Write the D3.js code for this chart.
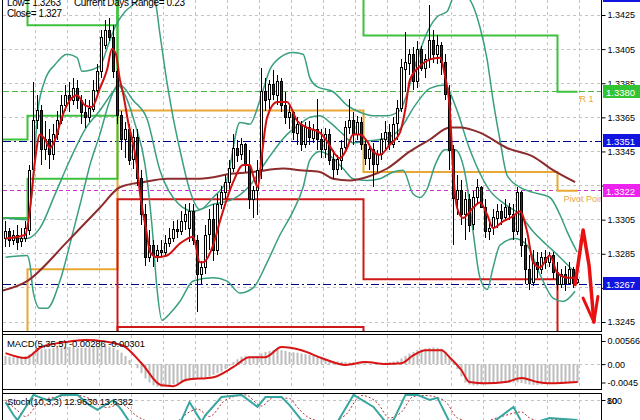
<!DOCTYPE html>
<html><head><meta charset="utf-8">
<script src="https://cdn.jsdelivr.net/npm/d3@7/dist/d3.min.js"></script>
<style>
html,body{margin:0;padding:0;background:#fff;}
svg{display:block;}
text{font-family:"Liberation Sans",Arial,sans-serif;}
</style></head><body>
<svg id="chart" width="640" height="420"></svg>
<script>
// ---------------- DATA ----------------
const openP = [
1.3294,1.3298,1.3293,1.3296,1.3292,1.3294,1.3299,1.3334,1.3363,1.3369,
1.3346,1.3352,1.3343,1.3355,1.3363,1.3372,1.3378,1.3375,1.3382,1.3375,
1.3368,1.3365,1.3370,1.3381,1.3392,1.3407,1.3416,1.3412,1.3392,1.3366,
1.3352,1.3358,1.3340,1.3353,1.3329,1.3308,1.3283,1.3290,1.3284,1.3287,
1.3286,1.3291,1.3294,1.3299,1.3298,1.3304,1.3300,1.3310,1.3293,1.3273,
1.3277,1.3296,1.3305,1.3287,1.3314,1.3321,1.3327,1.3335,1.3347,1.3343,
1.3349,1.3337,1.3317,1.3322,1.3334,1.3380,1.3375,1.3384,1.3378,1.3386,
1.3372,1.3365,1.3368,1.3356,1.3361,1.3349,1.3359,1.3353,1.3358,1.3352,
1.3346,1.3355,1.3340,1.3334,1.3340,1.3347,1.3359,1.3363,1.3355,1.3362,
1.3349,1.3341,1.3346,1.3337,1.3343,1.3352,1.3356,1.3349,1.3361,1.3370,
1.3393,1.3397,1.3402,1.3386,1.3405,1.3394,1.3399,1.3410,1.3402,1.3407,
1.3397,1.3378,1.3346,1.3317,1.3322,1.3308,1.3317,1.3302,1.3318,1.3324,
1.3312,1.3298,1.3300,1.3306,1.3310,1.3306,1.3312,1.3308,1.3298,1.3321,
1.3290,1.3276,1.3268,1.3280,1.3276,1.3283,1.3280,1.3284,1.3274,1.3267,
1.3273,1.3268,1.3276,1.3268];
const highP = [
1.3304,1.3300,1.3299,1.3302,1.3300,1.3304,1.3337,1.3386,1.3378,1.3372,
1.3363,1.3358,1.3361,1.3369,1.3378,1.3384,1.3386,1.3388,1.3387,1.3378,
1.3376,1.3375,1.3387,1.3396,1.3416,1.3422,1.3423,1.3419,1.3394,1.3369,
1.3362,1.3361,1.3358,1.3358,1.3334,1.3314,1.3299,1.3293,1.3290,1.3293,
1.3296,1.3300,1.3304,1.3305,1.3310,1.3314,1.3315,1.3314,1.3296,1.3281,
1.3302,1.3311,1.3314,1.3320,1.3325,1.3331,1.3340,1.3355,1.3352,1.3353,
1.3350,1.3346,1.3325,1.3340,1.3394,1.3388,1.3387,1.3393,1.3390,1.3388,
1.3380,1.3372,1.3369,1.3365,1.3363,1.3362,1.3363,1.3361,1.3376,1.3358,
1.3359,1.3358,1.3346,1.3343,1.3352,1.3363,1.3376,1.3368,1.3366,1.3365,
1.3352,1.3349,1.3350,1.3346,1.3356,1.3363,1.3361,1.3365,1.3375,1.3399,
1.3415,1.3405,1.3406,1.3410,1.3407,1.3402,1.3431,1.3416,1.3413,1.3409,
1.3402,1.3384,1.3349,1.3331,1.3328,1.3321,1.3320,1.3322,1.3329,1.3325,
1.3317,1.3304,1.3311,1.3314,1.3314,1.3317,1.3315,1.3314,1.3324,1.3322,
1.3294,1.3284,1.3287,1.3286,1.3286,1.3287,1.3286,1.3286,1.3280,1.3276,
1.3278,1.3280,1.3277,1.3273];
const lowP = [
1.3289,1.3289,1.3290,1.3287,1.3289,1.3292,1.3296,1.3333,1.3358,1.3337,
1.3340,1.3335,1.3340,1.3352,1.3361,1.3369,1.3368,1.3372,1.3370,1.3361,
1.3359,1.3362,1.3368,1.3378,1.3388,1.3405,1.3410,1.3388,1.3361,1.3346,
1.3341,1.3337,1.3335,1.3325,1.3302,1.3278,1.3280,1.3277,1.3280,1.3283,
1.3284,1.3289,1.3292,1.3294,1.3296,1.3299,1.3292,1.3290,1.3251,1.3267,
1.3273,1.3287,1.3281,1.3284,1.3311,1.3317,1.3322,1.3333,1.3339,1.3340,
1.3333,1.3311,1.3306,1.3308,1.3329,1.3369,1.3370,1.3375,1.3372,1.3368,
1.3361,1.3358,1.3352,1.3349,1.3345,1.3347,1.3349,1.3350,1.3346,1.3341,
1.3341,1.3337,1.3329,1.3331,1.3334,1.3345,1.3355,1.3349,1.3352,1.3346,
1.3337,1.3334,1.3324,1.3333,1.3340,1.3346,1.3346,1.3347,1.3352,1.3368,
1.3380,1.3390,1.3381,1.3382,1.3392,1.3388,1.3394,1.3397,1.3396,1.3390,
1.3375,1.3334,1.3290,1.3308,1.3302,1.3293,1.3298,1.3299,1.3314,1.3312,
1.3294,1.3293,1.3296,1.3300,1.3302,1.3304,1.3305,1.3293,1.3296,1.3283,
1.3267,1.3264,1.3266,1.3271,1.3273,1.3276,1.3277,1.3270,1.3264,1.3265,
1.3263,1.3267,1.3265,1.3267];
const closeP = [
1.3298,1.3293,1.3296,1.3292,1.3294,1.3300,1.3334,1.3363,1.3369,1.3346,
1.3352,1.3343,1.3355,1.3363,1.3372,1.3378,1.3375,1.3382,1.3375,1.3368,
1.3365,1.3370,1.3381,1.3392,1.3412,1.3416,1.3412,1.3392,1.3366,1.3352,
1.3358,1.3340,1.3353,1.3329,1.3308,1.3283,1.3290,1.3284,1.3287,1.3286,
1.3291,1.3294,1.3299,1.3298,1.3304,1.3308,1.3310,1.3293,1.3273,1.3277,
1.3296,1.3305,1.3287,1.3314,1.3321,1.3327,1.3335,1.3347,1.3343,1.3349,
1.3337,1.3317,1.3322,1.3334,1.3380,1.3375,1.3384,1.3378,1.3386,1.3372,
1.3365,1.3368,1.3356,1.3361,1.3349,1.3359,1.3353,1.3358,1.3352,1.3346,
1.3355,1.3340,1.3334,1.3340,1.3347,1.3359,1.3363,1.3355,1.3362,1.3349,
1.3341,1.3346,1.3337,1.3343,1.3352,1.3356,1.3349,1.3361,1.3370,1.3394,
1.3397,1.3402,1.3386,1.3405,1.3394,1.3399,1.3410,1.3402,1.3407,1.3397,
1.3378,1.3346,1.3317,1.3322,1.3308,1.3317,1.3302,1.3318,1.3324,1.3312,
1.3298,1.3300,1.3306,1.3310,1.3306,1.3312,1.3308,1.3298,1.3321,1.3290,
1.3276,1.3268,1.3280,1.3276,1.3283,1.3280,1.3284,1.3274,1.3267,1.3273,
1.3268,1.3276,1.3268,1.3270];

// fast MA (red), sampled points [bar, price]
const fastMaIdx = [0,4.9,6.1,7.4,8.6,9.9,11.1,12.4,14.1,16.1,17.9,19.9,21.6,23.6,25.4,26.6,27.6,28.6,29.4,30.6,32.9,33.6,35.4,36.1,37.9,40.4,43.6,46.9,48.6,49.4,51.9,53.6,56.9,59.4,61.1,61.9,63.1,64.1,65.4,67.9,70.4,72.9,75.4,78.6,80.4,81.9,83.6,85.4,86.9,88.6,90.4,91.9,93.6,96.1,98.6,99.9,101.1,103.6,106.1,108.6,109.9,111.1,111.9,112.9,114.4,116.9,118.6,120.4,121.9,124.4,126.9,128.6,130.4,131.9,133.6,136.1,137.9,140.4,142.4];
const fastMaVal = [1.3294,1.3296,1.3311,1.3340,1.3355,1.3352,1.3347,1.3352,1.3365,1.3375,1.3378,1.3372,1.3371,1.3382,1.3393,1.3405,1.3402,1.3387,1.3379,1.3363,1.3336,1.3321,1.3296,1.3286,1.3283,1.3284,1.3291,1.3295,1.3280,1.3280,1.3290,1.3304,1.3327,1.3337,1.3337,1.3331,1.3324,1.3343,1.3365,1.3374,1.3374,1.3363,1.3359,1.3356,1.3351,1.3345,1.3341,1.3347,1.3355,1.3355,1.3351,1.3345,1.3343,1.3349,1.3356,1.3369,1.3387,1.3395,1.3399,1.3400,1.3389,1.3369,1.3334,1.3312,1.3306,1.3312,1.3315,1.3308,1.3300,1.3304,1.3307,1.3310,1.3298,1.3280,1.3277,1.3284,1.3274,1.3271,1.3271];

// slow MA (brown)
const slowMaIdx = [-1.4,5.4,15.4,23.6,28.6,34.4,40.4,48.6,56.9,61.9,69.4,73.6,78.6,81.9,86.1,90.4,95.4,101.1,106.1,111.1,113.6,118.6,125.4,131.9,136.9,142.4];
const slowMaVal = [1.3263,1.3269,1.3292,1.3312,1.3324,1.3327,1.3329,1.3329,1.3332,1.3333,1.3335,1.3334,1.3333,1.3329,1.3328,1.3330,1.3335,1.3345,1.3352,1.3359,1.3359,1.3356,1.3347,1.3342,1.3334,1.3327];

// Bollinger bands (teal)
const bbUpIdx = [0,5.4,6.6,8.1,9.9,12.4,15.4,17.9,19.1,23.6,25.6,27.4,29.9,31.9,35.6,37.4,38.6,40.4,41.9,43.6,46.1,48.6,51.9,55.4,58.6,61.1,63.6,66.1,68.6,71.9,74.4,76.1,77.9,81.9,85.4,88.6,91.9,95.4,98.6,100.4,102.9,106.1,107.9,110.4,112.4,114.9,116.1,118.6,120.4,121.9,123.6,125.4,128.6,131.9,136.1,138.6,140.4,142.9];
const bbUpVal = [1.3306,1.3305,1.3320,1.3369,1.3387,1.3396,1.3402,1.3400,1.3392,1.3395,1.3407,1.3418,1.3427,1.3431,1.3438,1.3433,1.3414,1.3385,1.3365,1.3346,1.3322,1.3311,1.3318,1.3329,1.3362,1.3361,1.3375,1.3393,1.3400,1.3403,1.3402,1.3388,1.3383,1.3380,1.3372,1.3368,1.3366,1.3366,1.3369,1.3379,1.3399,1.3418,1.3424,1.3427,1.3437,1.3437,1.3434,1.3418,1.3399,1.3375,1.3352,1.3331,1.3324,1.3321,1.3318,1.3308,1.3298,1.3286];
const bbMidIdx = [0,5.4,8.6,12.4,16.1,19.9,23.6,26.9,28.6,31.9,35.4,38.6,41.9,46.9,51.9,56.9,61.1,65.4,70.4,73.6,76.1,78.6,81.1,84.4,86.9,90.4,95.4,98.6,102.4,106.1,109.9,112.4,116.1,121.1,124.9,128.6,131.9,135.4,138.6,142.4];
const bbMidVal = [1.3294,1.3294,1.3300,1.3320,1.3340,1.3358,1.3369,1.3380,1.3384,1.3375,1.3364,1.3334,1.3318,1.3310,1.3314,1.3317,1.3325,1.3340,1.3355,1.3361,1.3365,1.3366,1.3362,1.3355,1.3350,1.3351,1.3353,1.3358,1.3372,1.3382,1.3384,1.3372,1.3346,1.3322,1.3314,1.3308,1.3298,1.3290,1.3283,1.3274];
const bbLoIdx = [0,5.4,6.1,6.9,8.6,10.4,13.6,16.9,19.4,21.1,23.6,26.1,28.1,29.9,32.4,34.9,36.6,37.9,39.1,41.1,43.6,46.9,51.9,55.4,58.6,61.9,65.4,68.6,71.9,74.4,76.1,78.6,81.9,84.4,86.9,90.4,93.6,96.9,99.4,101.9,103.6,105.4,107.4,109.9,112.4,114.4,115.4,116.9,118.6,120.4,121.9,123.6,127.4,130.4,133.6,136.9,139.4,142.4];
const bbLoVal = [1.3283,1.3284,1.3279,1.3263,1.3253,1.3253,1.3269,1.3298,1.3321,1.3337,1.3355,1.3375,1.3384,1.3378,1.3361,1.3337,1.3302,1.3264,1.3246,1.3250,1.3257,1.3269,1.3271,1.3269,1.3262,1.3265,1.3280,1.3296,1.3310,1.3324,1.3340,1.3345,1.3341,1.3335,1.3329,1.3328,1.3329,1.3333,1.3334,1.3320,1.3318,1.3323,1.3337,1.3346,1.3346,1.3337,1.3325,1.3298,1.3271,1.3264,1.3277,1.3290,1.3294,1.3290,1.3273,1.3259,1.3257,1.3263];

// daily pivot levels (day boundaries in bars)
const dayStart = [-3, 5.5, 28, 89.5, 138];
const dayEnd   = [5.5, 28, 89.5, 138, 143];
const pivotLvl = [1.3210, 1.3276, 1.3369, 1.3333, 1.3322];
const r1Lvl = [1.3306, 1.3329, 1.3460, 1.3413, 1.3380];
const r2Lvl = [1.3352, 1.3366, 1.3480, 1.3470, 1.3460];
const r3Lvl = [1.3450, 1.3419, 1.3500, 1.3500, 1.3500];
const s1Lvl = [1.3200, 1.3200, 1.3317, 1.3270, 1.3200];
const s2Lvl = [1.3190, 1.3190, 1.3242, 1.3190, 1.3190];

// horizontal level lines + price tags
const hLevels = [1.3380, 1.3351, 1.3322, 1.3267];
const hLabels = ["1.3380", "1.3351", "1.3322", "1.3267"];
const topTagPrice = 1.3436, topTagLabel = "1.3436";

// price axis ticks (labels of 1.3325 and 1.3265 sit under the price tags)
const priceTicks = [1.3425,1.3405,1.3385,1.3365,1.3345,1.3325,1.3305,1.3285,1.3265,1.3245];
const hiddenTickLabels = [1.3325, 1.3265];

// hand-drawn arrow
const arrowIdx = [142.4, 144.4, 145.9, 147.1];
const arrowVal = [1.3267, 1.3299, 1.3278, 1.3245];
const arrowWingIdx = [144.4, 147.1, 148.1];
const arrowWingVal = [1.3259, 1.3245, 1.3260];

// MACD histogram (per bar) and signal
const macdHist = [
0.0020,0.0018,0.0017,0.0016,0.0018,0.0020,0.0024,
0.0030,0.0034,0.0036,0.0037,0.0038,0.0039,0.0040,0.0041,0.0042,0.0042,0.0042,0.0041,0.0040,0.0040,0.0041,0.0042,0.0043,0.0044,0.0044,0.0043,0.0040,0.0035,0.0028,0.0020,
0.0010,0.0000,-0.0010,
-0.0022,-0.0035,-0.0045,-0.0052,-0.0055,-0.0056,-0.0055,-0.0053,-0.0050,-0.0048,-0.0045,-0.0043,-0.0040,-0.0038,-0.0036,-0.0034,-0.0032,-0.0030,-0.0026,-0.0022,-0.0018,-0.0012,
-0.0005,0.0005,0.0012,0.0018,0.0020,0.0018,0.0016,0.0020,0.0026,0.0030,0.0032,0.0034,0.0035,0.0034,0.0032,0.0030,0.0029,0.0028,0.0026,0.0024,0.0022,0.0020,0.0017,
0.0015,0.0012,0.0010,0.0008,0.0007,0.0006,0.0005,
0.0004,0.0004,0.0003,0.0003,0.0002,0.0001,0.0001,0.0002,0.0003,0.0004,0.0005,0.0006,0.0008,
0.0014,0.0020,0.0026,0.0030,0.0034,0.0036,0.0038,0.0040,0.0041,0.0040,0.0038,0.0030,
0.0018,0.0005,-0.0012,-0.0030,
-0.0045,-0.0050,-0.0052,-0.0052,-0.0050,-0.0050,-0.0049,-0.0048,-0.0047,-0.0047,-0.0046,-0.0046,-0.0045,-0.0045,-0.0046,-0.0048,-0.0050,-0.0051,-0.0051,-0.0050,-0.0049,-0.0049,-0.0048,-0.0048,-0.0047,-0.0047,-0.0047,-0.0046,-0.0046];
const macdSigIdx = [0,5,9,15,20,29,34,39,42,45,52,57,61,65,69,74,79,85,90,95,99,102,105,109,111,114,116,120,125,129,133,136,143];
const macdSigVal = [0.0027,0.0015,0.0042,0.0054,0.0059,0.0047,0.0002,-0.0052,-0.0054,-0.0039,-0.0032,-0.0007,0.0017,0.0017,0.0042,0.0034,0.0015,-0.0002,0.0005,0.0000,0.0002,0.0022,0.0034,0.0034,0.0017,-0.0015,-0.0044,-0.0047,-0.0044,-0.0034,-0.0044,-0.0047,-0.0044];
const macdTicks = [0.00566, 0, -0.0045];
const macdTickLabels = ["0.00566", "0.00", "-0.0045"];

// Stochastic
const stoMainIdx = [0,2,3,7,11,14,18,21,23,27,29,31,34,41,44,46,49,50,54,59,63,65,69,71,74,79,83,87,92,95,97,100,103,106,108,111,116,122,127,129,132,136,143];
const stoMainVal = [73,30,13,97,77,97,97,63,47,80,47,7,2,2,13,73,7,30,90,97,57,90,90,63,13,2,7,97,57,7,13,97,97,80,87,7,2,7,57,7,3,20,13];
const stoSigIdx = [0,3,5,9,13,17,21,25,29,33,37,42,46,48,51,55,60,64,67,71,73,76,81,85,89,93,96,99,102,105,108,110,113,118,124,129,131,134,138,143];
const stoSigVal = [80,45,25,80,90,97,85,55,65,25,5,5,40,50,25,80,97,60,88,85,55,20,5,30,95,70,20,40,92,95,88,75,20,4,25,40,20,10,15,14];

// ---------------- DRAW ----------------
const svg = d3.select('#chart');
const defs = svg.append('defs');
function clip(id, x, y, w, h) {
  defs.append('clipPath').attr('id', id).append('rect')
    .attr('x', x).attr('y', y).attr('width', w).attr('height', h);
}
clip('cMain', 3, 0, 598, 331);
clip('cMacd', 3, 335, 598, 54);
clip('cSto', 3, 394, 598, 26);

const x = d3.scaleLinear().domain([0, 143]).range([5.5, 577.5]);
const y = d3.scaleLinear().domain([1.3245, 1.3425]).range([322, 15]);
const yM = d3.scaleLinear().domain([-0.0045, 0.00566]).range([382.5, 341]);
const yS = d3.scaleLinear().domain([0, 100]).range([424, 394]);
const crisp = v => Math.round(v - 0.5) + 0.5;

const gridColor = '#c4c4c4';
const vGrid = d3.range(7.375, 144, 8);

// grids
function vgrid(y0, y1) {
  svg.append('g').selectAll('line').data(vGrid).join('line')
    .attr('x1', d => crisp(x(d))).attr('x2', d => crisp(x(d)))
    .attr('y1', y0).attr('y2', y1)
    .attr('stroke', gridColor).attr('stroke-dasharray', '3,3');
}
vgrid(0, 331); vgrid(335, 389); vgrid(394, 420);
svg.append('g').selectAll('line').data(priceTicks).join('line')
  .attr('x1', 3).attr('x2', 601).attr('y1', d => crisp(y(d))).attr('y2', d => crisp(y(d)))
  .attr('stroke', gridColor).attr('stroke-dasharray', '3,3');
svg.append('line').attr('x1', 3).attr('x2', 601).attr('y1', crisp(yM(0))).attr('y2', crisp(yM(0)))
  .attr('stroke', gridColor).attr('stroke-dasharray', '3,3');
svg.append('line').attr('x1', 3).attr('x2', 601).attr('y1', crisp(yS(80))).attr('y2', crisp(yS(80)))
  .attr('stroke', gridColor).attr('stroke-dasharray', '3,3');

// main panel content
const gMain = svg.append('g').attr('clip-path', 'url(#cMain)');

// horizontal level lines
const hStyles = [
  {c: '#4cb84c', d: '6,3'}, {c: '#00008b', d: '8,3,2,3'},
  {c: '#cc33cc', d: '4,3'}, {c: '#00008b', d: '8,3,2,3'}];
hLevels.forEach((p, k) => {
  gMain.append('line').attr('x1', 3).attr('x2', 601)
    .attr('y1', crisp(y(p))).attr('y2', crisp(y(p)))
    .attr('stroke', hStyles[k].c).attr('stroke-dasharray', hStyles[k].d);
});

// pivot step lines
const stepLine = d3.line().x(d => x(d[0])).y(d => y(d[1]));
function steps(levels) {
  const pts = [];
  levels.forEach((l, k) => { pts.push([dayStart[k], l]); pts.push([dayEnd[k], l]); });
  return pts;
}
[[pivotLvl, '#e8a833'], [s1Lvl, '#d01818'], [s2Lvl, '#d01818'],
 [r3Lvl, '#3cc23c'], [r2Lvl, '#3cc23c'], [r1Lvl, '#3cc23c']].forEach(([lv, col]) => {
  gMain.append('path').attr('d', stepLine(steps(lv))).attr('fill', 'none')
    .attr('stroke', col).attr('stroke-width', 2);
});
gMain.append('text').attr('x', x(143) + 2).attr('y', y(r1Lvl[4]) + 10)
  .attr('font-size', 9).attr('fill', '#e8a840').text('R 1');
gMain.append('text').attr('x', x(143) - 14).attr('y', y(pivotLvl[4]) + 11)
  .attr('font-size', 9).attr('fill', '#e8a840').text('Pivot Point');

// Bollinger bands
const curveLine = (sc) => d3.line().x(d => x(d[0])).y(d => sc(d[1])).curve(d3.curveMonotoneX);
[[bbUpIdx, bbUpVal], [bbMidIdx, bbMidVal], [bbLoIdx, bbLoVal]].forEach(([ix, vv]) => {
  gMain.append('path').attr('d', curveLine(y)(d3.zip(ix, vv)))
    .attr('fill', 'none').attr('stroke', '#3a9e80').attr('stroke-width', 1.5);
});
// slow MA
gMain.append('path').attr('d', curveLine(y)(d3.zip(slowMaIdx, slowMaVal)))
  .attr('fill', 'none').attr('stroke', '#8c2c2c').attr('stroke-width', 2);

// candles
const bars = d3.range(closeP.length);
gMain.append('g').selectAll('line').data(bars).join('line')
  .attr('x1', i => x(i)).attr('x2', i => x(i))
  .attr('y1', i => Math.round(y(highP[i]))).attr('y2', i => Math.round(y(lowP[i])))
  .attr('stroke', '#000').attr('stroke-width', 1);
gMain.append('g').selectAll('rect').data(bars).join('rect')
  .attr('x', i => x(i) - 1)
  .attr('width', 2)
  .attr('y', i => crisp(y(Math.max(openP[i], closeP[i]))))
  .attr('height', i => Math.max(1, Math.round(Math.abs(y(openP[i]) - y(closeP[i])))))
  .attr('fill', i => closeP[i] >= openP[i] ? '#ffffff' : '#1d3d1d')
  .attr('stroke', '#000').attr('stroke-width', 1);

// fast MA
gMain.append('path').attr('d', curveLine(y)(d3.zip(fastMaIdx, fastMaVal)))
  .attr('fill', 'none').attr('stroke', '#d01010').attr('stroke-width', 2);

// arrow
const straight = d3.line().x(d => x(d[0])).y(d => y(d[1]));
svg.append('path').attr('d', straight(d3.zip(arrowIdx, arrowVal)))
  .attr('fill', 'none').attr('stroke', '#e81010').attr('stroke-width', 3.5)
  .attr('stroke-linejoin', 'round').attr('stroke-linecap', 'round');
svg.append('path').attr('d', straight(d3.zip(arrowWingIdx, arrowWingVal)))
  .attr('fill', 'none').attr('stroke', '#e81010').attr('stroke-width', 3)
  .attr('stroke-linejoin', 'round').attr('stroke-linecap', 'round');

// MACD panel
const gMacd = svg.append('g').attr('clip-path', 'url(#cMacd)');
gMacd.append('g').selectAll('rect').data(bars).join('rect')
  .attr('x', i => x(i) - 1).attr('width', 2)
  .attr('y', i => yM(Math.max(0, macdHist[i])))
  .attr('height', i => Math.abs(yM(macdHist[i]) - yM(0)))
  .attr('fill', '#bcbcbc');
gMacd.append('path').attr('d', curveLine(yM)(d3.zip(macdSigIdx, macdSigVal)))
  .attr('fill', 'none').attr('stroke', '#d81414').attr('stroke-width', 2);

// Stochastic panel
const gSto = svg.append('g').attr('clip-path', 'url(#cSto)');
gSto.append('path').attr('d', curveLine(yS)(d3.zip(stoSigIdx, stoSigVal)))
  .attr('fill', 'none').attr('stroke', '#b03030').attr('stroke-width', 1).attr('stroke-dasharray', '2,2');
gSto.append('path').attr('d', d3.line().x(d => x(d[0])).y(d => yS(d[1]))(d3.zip(stoMainIdx, stoMainVal)))
  .attr('fill', 'none').attr('stroke', '#38a6a0').attr('stroke-width', 2);

// frames
const fr = svg.append('g').attr('stroke', '#000').attr('stroke-width', 1);
fr.append('line').attr('x1', 2.5).attr('x2', 2.5).attr('y1', 0).attr('y2', 420);
fr.append('line').attr('x1', 601.5).attr('x2', 601.5).attr('y1', 0).attr('y2', 331);
fr.append('line').attr('x1', 601.5).attr('x2', 601.5).attr('y1', 334).attr('y2', 389);
fr.append('line').attr('x1', 601.5).attr('x2', 601.5).attr('y1', 393).attr('y2', 420);
fr.append('line').attr('x1', 2).attr('x2', 602).attr('y1', 331.5).attr('y2', 331.5);
fr.append('line').attr('x1', 2).attr('x2', 602).attr('y1', 334.5).attr('y2', 334.5);
fr.append('line').attr('x1', 2).attr('x2', 602).attr('y1', 389.5).attr('y2', 389.5);
fr.append('line').attr('x1', 2).attr('x2', 602).attr('y1', 393.5).attr('y2', 393.5);

// axes
const fmt4 = d3.format('.4f');
const axMain = d3.axisRight(y).tickValues(priceTicks).tickSize(4).tickPadding(2)
  .tickFormat(d => hiddenTickLabels.includes(d) ? '' : fmt4(d));
const gAx = svg.append('g').attr('transform', 'translate(601.5,0)').call(axMain);
gAx.select('.domain').remove();
gAx.selectAll('text').attr('font-size', 9).attr('font-family', '"Liberation Sans",Arial,sans-serif').attr('fill', '#000');
const axM = d3.axisRight(yM).tickValues(macdTicks).tickSize(4).tickPadding(2).tickFormat((d, i) => macdTickLabels[i]);
const gAxM = svg.append('g').attr('transform', 'translate(601.5,0)').call(axM);
gAxM.select('.domain').remove();
gAxM.selectAll('text').attr('font-size', 9).attr('font-family', '"Liberation Sans",Arial,sans-serif').attr('fill', '#000');
svg.append('line').attr('x1', 601.5).attr('x2', 605.5).attr('y1', 400.5).attr('y2', 400.5).attr('stroke', '#000');
['100', '80'].forEach(t => svg.append('text').attr('x', 607).attr('y', 404)
  .attr('font-size', 9).attr('fill', '#000').text(t));

// price tags
const tagColors = ['#33c433', '#1414e0', '#ee22ee', '#1414e0'];
function tag(p, label, col) {
  const yy = Math.round(y(p));
  svg.append('rect').attr('x', 603).attr('y', yy - 7).attr('width', 37).attr('height', 13).attr('fill', col);
  svg.append('text').attr('x', 606).attr('y', yy + 3.5).attr('font-size', 9.5).attr('fill', '#fff').text(label);
}
hLevels.forEach((p, k) => tag(p, hLabels[k], tagColors[k]));
tag(topTagPrice, topTagLabel, '#1414e0');

// info texts
svg.append('text').attr('x', 7).attr('y', 6).attr('font-size', 10).attr('textLength', 54).text('Low= 1.3263');
svg.append('text').attr('x', 74).attr('y', 6).attr('font-size', 10).attr('textLength', 111).text('Current Days Range= 0.23');
svg.append('text').attr('x', 7).attr('y', 17).attr('font-size', 10).attr('textLength', 55).text('Close= 1.327');
svg.append('text').attr('x', 7).attr('y', 347).attr('font-size', 9.5).attr('textLength', 138).text('MACD(5,35,5) -0.00286 -0.00301');
svg.append('text').attr('x', 7).attr('y', 405).attr('font-size', 9.5).attr('textLength', 126).text('Stoch(10,3,3) 12.9630 13.6382');
</script>
</body></html>
